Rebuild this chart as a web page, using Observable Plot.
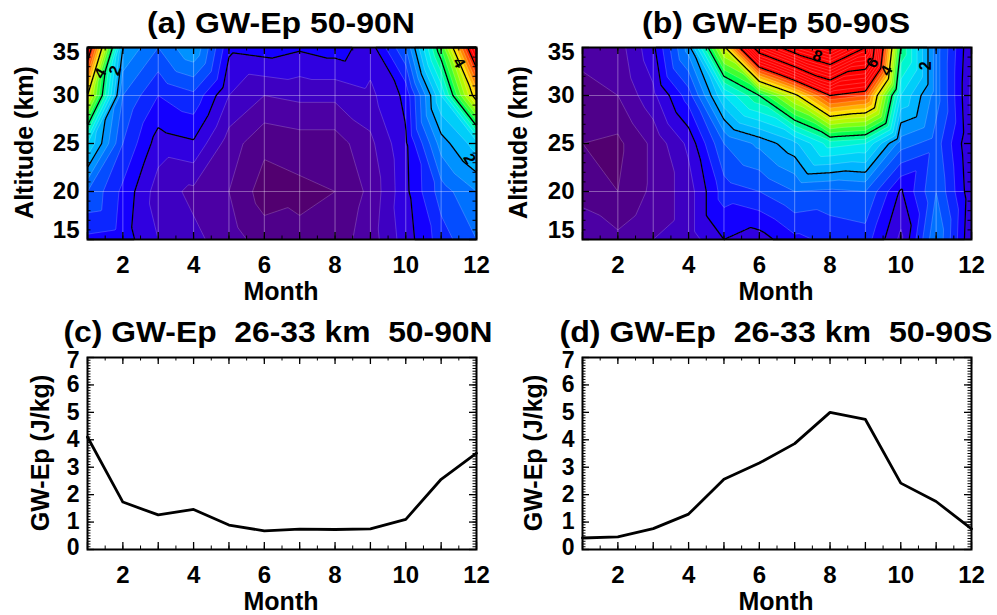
<!DOCTYPE html>
<html><head><meta charset="utf-8">
<script src="https://cdn.jsdelivr.net/npm/d3@7"></script>
<script src="https://cdn.jsdelivr.net/npm/@observablehq/plot@0.6"></script>
<style>
body{margin:0;background:#fff;}
#wrap{position:relative;width:997px;height:615px;font-family:"Liberation Sans",Arial,Helvetica,sans-serif;overflow:hidden;}
#wrap svg{position:absolute;}
</style></head><body><div id="wrap"></div>
<script>
// ---------------- DATA ----------------
const months = [1,2,3,4,5,6,7,8,9,10,11,12];
const altitudes = [15, 20, 25, 30, 35];
// GW-Ep (J/kg), rows = altitudes (15 .. 35 km), columns = months
const epNorthGrid = [
  [1.15, 1.1, 0.8, 0.65, 0.5, 0.3, 0.25, 0.3, 0.5, 0.9, 1.3, 1.6],
  [1.6, 1.15, 0.7, 0.55, 0.4, 0.1, 0.15, 0.2, 0.45, 0.95, 1.5, 1.8],
  [2.4, 1.4, 0.9, 0.97, 0.5, 0.25, 0.3, 0.3, 0.55, 0.97, 1.9, 2.3],
  [4.0, 1.6, 1.2, 1.35, 0.8, 0.6, 0.65, 0.65, 0.75, 1.05, 2.4, 4.2],
  [5.4, 2.0, 1.6, 2.0, 1.05, 1.1, 1.03, 1.1, 0.9, 1.6, 3.2, 5.6]
];
const epSouthGrid = [
  [0.5, 0.45, 0.6, 0.7, 1.0, 0.9, 1.15, 1.25, 1.3, 0.75, 1.8, 0.8],
  [0.35, 0.2, 0.45, 0.7, 1.3, 1.4, 1.6, 1.55, 1.6, 0.97, 1.6, 0.85],
  [0.2, 0.15, 0.45, 0.85, 1.6, 1.85, 2.15, 2.7, 2.6, 1.7, 1.5, 0.8],
  [0.35, 0.4, 0.75, 1.3, 2.4, 3.0, 3.9, 5.0, 4.8, 2.4, 1.7, 0.75],
  [0.45, 0.5, 0.95, 1.9, 3.9, 6.4, 7.4, 8.1, 7.0, 3.0, 1.7, 0.8]
];
// GW-Ep averaged over 26-33 km
const epNorthLayer = [4.1, 1.73, 1.26, 1.46, 0.89, 0.68, 0.74, 0.73, 0.75, 1.1, 2.56, 3.51];
const epSouthLayer = [0.42, 0.46, 0.76, 1.29, 2.56, 3.15, 3.86, 5.0, 4.74, 2.42, 1.75, 0.75];
// contour labels
const labelsNorth = [
  {m: 1.36, alt: 32.3, t: "4", r: -60},
  {m: 1.78, alt: 32.6, t: "2", r: -70},
  {m: 11.5, alt: 33.4, t: "4", r: 60},
  {m: 11.8, alt: 23.4, t: "2", r: 60}
];
const labelsSouth = [
  {m: 7.64, alt: 34.1, t: "8", r: 20},
  {m: 9.2, alt: 33.4, t: "6", r: -60},
  {m: 9.6, alt: 32.6, t: "4", r: -60},
  {m: 10.7, alt: 33.1, t: "2", r: -90}
];
const xTickLabels = [2, 4, 6, 8, 10, 12];
const altTickLabels = [15, 20, 25, 30, 35];
const epTickLabels = [0, 1, 2, 3, 4, 5, 6, 7];
const titles = ["(a) GW-Ep 50-90N", "(b) GW-Ep 50-90S", "(c) GW-Ep  26-33 km  50-90N", "(d) GW-Ep  26-33 km  50-90S"];

// colour map (IDL-like rainbow)
const colorStops = [0, 0.4, 0.8, 1.0, 1.5, 2.0, 2.5, 3.0, 3.5, 4.0, 4.5, 5.0];
const colorRange = ["#520070", "#4c00a4", "#3000e0", "#1400ff", "#0060ff", "#00b4ff", "#00f4f0", "#00ff50", "#a0ff00", "#ffe000", "#ff7000", "#ff0000"];

// ---------------- LAYOUT ----------------
const FONT = '"Liberation Sans", Arial, Helvetica, sans-serif';
const wrap = document.getElementById("wrap");
const fillLevels = d3.range(0, 10.01, 0.2).map(v => +v.toFixed(2));
const lineLevels = [1, 2, 3, 4, 5, 6, 7, 8, 9];

function frameTicks(xMinor, xMajor, yMinor, yMajor, fw, fh) {
  const k = 3.5, K = 7;
  return [
    Plot.tickX(xMinor, {x: d => d, insetTop: fh - k, stroke: "black", strokeWidth: 1}),
    Plot.tickX(xMinor, {x: d => d, insetBottom: fh - k, stroke: "black", strokeWidth: 1}),
    Plot.tickX(xMajor, {x: d => d, insetTop: fh - K, stroke: "black", strokeWidth: 1.3}),
    Plot.tickX(xMajor, {x: d => d, insetBottom: fh - K, stroke: "black", strokeWidth: 1.3}),
    Plot.tickY(yMinor, {y: d => d, insetRight: fw - k, stroke: "black", strokeWidth: 1}),
    Plot.tickY(yMinor, {y: d => d, insetLeft: fw - k, stroke: "black", strokeWidth: 1}),
    Plot.tickY(yMajor, {y: d => d, insetRight: fw - K, stroke: "black", strokeWidth: 1.3}),
    Plot.tickY(yMajor, {y: d => d, insetLeft: fw - K, stroke: "black", strokeWidth: 1.3})
  ];
}

function axesMarks(yInner, yTop, yBottom, topDy, bottomDy, fs) {
  const common = {tickSize: 0, fontSize: fs, fontWeight: "bold", label: null};
  return [
    Plot.axisX(xTickLabels, {...common, fontSize: 24, tickPadding: 16, tickFormat: d => String(d)}),
    Plot.axisY(yInner, {...common, tickPadding: 8, tickFormat: d => String(d)}),
    Plot.axisY([yTop], {...common, tickPadding: 8, dy: topDy, tickFormat: d => String(d)}),
    Plot.axisY([yBottom], {...common, tickPadding: 8, dy: bottomDy, tickFormat: d => String(d)})
  ];
}

function place(svg, left, top) {
  svg.style.left = left + "px";
  svg.style.top = top + "px";
  wrap.appendChild(svg);
}

function contourPanel(grid, labels, left, top, W, H, m) {
  const pts = [];
  altitudes.forEach((a, i) => months.forEach((mo, j) => pts.push({m: mo, alt: a, v: grid[i][j]})));
  const fw = W - m.l - m.r, fh = H - m.t - m.b;
  const minorX = d3.range(1, 12.01, 0.5), majorX = months;
  const minorY = d3.range(15, 35.01, 1), majorY = altTickLabels;
  const svg = Plot.plot({
    width: W, height: H, marginLeft: m.l, marginRight: m.r, marginTop: m.t, marginBottom: m.b,
    x: {domain: [1, 12]}, y: {domain: [15, 35]},
    color: {type: "linear", domain: colorStops, range: colorRange, clamp: true},
    style: {fontFamily: FONT, background: "none", color: "black", overflow: "visible"},
    marks: [
      Plot.contour(pts, {x: "m", y: "alt", value: "v", fill: "value", interpolate: "barycentric",
        thresholds: fillLevels, pixelSize: 1, stroke: "white", strokeOpacity: 0.28, strokeWidth: 0.7}),
      Plot.gridX(d3.range(2, 12), {stroke: "white", strokeOpacity: 0.35, strokeWidth: 1}),
      Plot.gridY([20, 30], {stroke: "white", strokeOpacity: 0.35, strokeWidth: 1}),
      Plot.contour(pts, {x: "m", y: "alt", value: "v", interpolate: "barycentric",
        thresholds: lineLevels, pixelSize: 1, stroke: "black", fill: "none", strokeWidth: 1.3}),
      Plot.text(labels, {x: "m", y: "alt", text: "t", rotate: "r", fontSize: 16, fontWeight: "bold", fill: "black"}),
      ...frameTicks(minorX, majorX, minorY, majorY, fw, fh),
      Plot.frame({stroke: "black", strokeWidth: 2}),
      ...axesMarks([20, 25, 30], 35, 15, 5, -9, 24)
    ]
  });
  place(svg, left, top);
}

function linePanel(values, left, top, W, H, m) {
  const fw = W - m.l - m.r, fh = H - m.t - m.b;
  const pts = months.map((mo, i) => ({m: mo, v: values[i]}));
  const minorX = d3.range(1, 12.01, 0.5), majorX = months;
  const minorY = d3.range(0, 7.001, 0.1).map(v => +v.toFixed(1)), majorY = epTickLabels;
  const svg = Plot.plot({
    width: W, height: H, marginLeft: m.l, marginRight: m.r, marginTop: m.t, marginBottom: m.b,
    x: {domain: [1, 12]}, y: {domain: [0, 7]},
    style: {fontFamily: FONT, background: "none", color: "black", overflow: "visible"},
    marks: [
      Plot.line(pts, {x: "m", y: "v", stroke: "black", strokeWidth: 2.8, strokeLinejoin: "round"}),
      ...frameTicks(minorX, majorX, minorY, majorY, fw, fh),
      Plot.frame({stroke: "black", strokeWidth: 2}),
      ...axesMarks([1, 2, 3, 4, 5, 6], 7, 0, 3, -2, 23)
    ]
  });
  place(svg, left, top);
}

const mLeft = {l: 87, r: 22, t: 47, b: 68};
const mRight = {l: 84, r: 26, t: 47, b: 68};
contourPanel(epNorthGrid, labelsNorth, 0, 0, 498, 307, mLeft);
contourPanel(epSouthGrid, labelsSouth, 498, 0, 499, 307, mRight);
linePanel(epNorthLayer, 0, 307, 498, 308, {l: 87, r: 22, t: 50, b: 66});
linePanel(epSouthLayer, 498, 307, 499, 308, {l: 84, r: 26, t: 50, b: 66});

// overlay: titles and axis labels
const ov = d3.select(wrap).append("svg").attr("width", 997).attr("height", 615)
  .style("left", "0px").style("top", "0px").style("pointer-events", "none")
  .attr("font-family", FONT).attr("font-weight", "bold").attr("fill", "black");
const titlePos = [[281, 33, 268], [776, 33, 268], [278, 342, 429], [776, 342, 433]];
titles.forEach((t, i) => {
  ov.append("text").attr("x", titlePos[i][0]).attr("y", titlePos[i][1]).attr("text-anchor", "middle")
    .attr("xml:space", "preserve").style("white-space", "pre")
    .attr("font-size", 30).attr("textLength", titlePos[i][2]).attr("lengthAdjust", "spacingAndGlyphs").text(t);
});
[[281, 300], [776, 300], [281, 610], [776, 610]].forEach(([x, y]) => {
  ov.append("text").attr("x", x).attr("y", y).attr("text-anchor", "middle").attr("font-size", 25).text("Month");
});
[[24, 142.5, "Altitude (km)"], [518, 142.5, "Altitude (km)"], [40, 453, "GW-Ep (J/kg)"], [533, 453, "GW-Ep (J/kg)"]].forEach(([x, y, t]) => {
  ov.append("text").attr("transform", `translate(${x},${y}) rotate(-90)`).attr("text-anchor", "middle")
    .attr("dominant-baseline", "central").attr("font-size", 25).text(t);
});
</script></body></html>
